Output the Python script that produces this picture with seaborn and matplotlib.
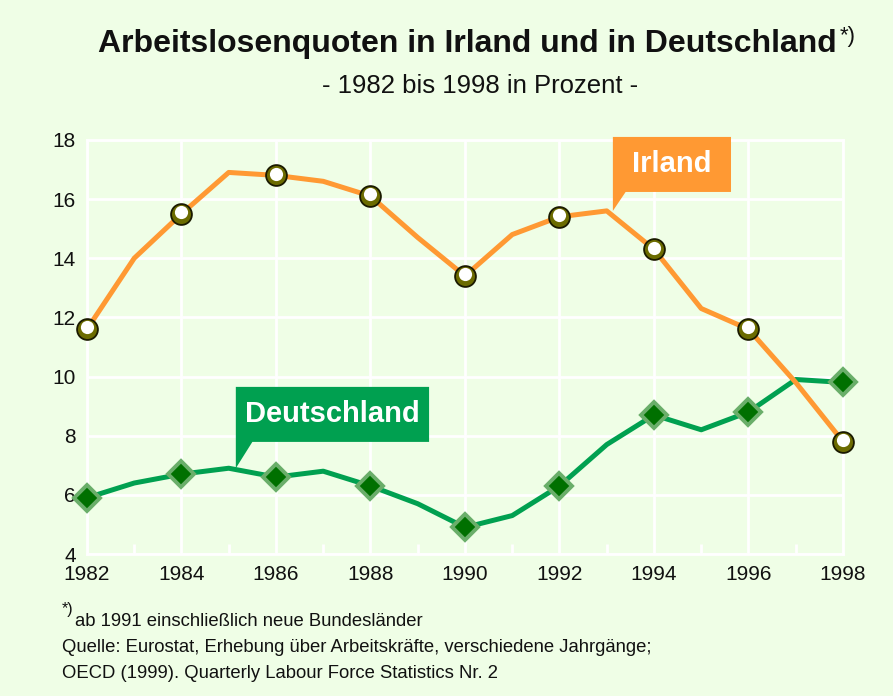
import numpy as np
import pandas as pd
import matplotlib
matplotlib.use("Agg")
import matplotlib.pyplot as plt
import matplotlib.transforms as mtransforms
from matplotlib.patches import Polygon
import seaborn as sns

# ----------------------------
# Data
# ----------------------------
years = list(range(1982, 1999))
irland = [11.6, 14.0, 15.5, 16.9, 16.8, 16.6, 16.1, 14.7, 13.4,
          14.8, 15.4, 15.6, 14.3, 12.3, 11.6, 9.8, 7.8]
deutschland = [5.9, 6.4, 6.7, 6.9, 6.6, 6.8, 6.3, 5.7, 4.9,
               5.3, 6.3, 7.7, 8.7, 8.2, 8.8, 9.9, 9.8]
y_ticks = [4, 6, 8, 10, 12, 14, 16, 18]
x_ticks = list(range(1982, 1999, 2))

df = pd.DataFrame({"Jahr": years, "Irland": irland, "Deutschland": deutschland})
marked = df[df["Jahr"] % 2 == 0]

# ----------------------------
# Style
# ----------------------------
BG = "#EFFEE6"
ORANGE = "#FF9933"
GREEN = "#00A050"

sns.set_theme(style="white")
plt.rcParams["font.family"] = ["Liberation Sans", "DejaVu Sans"]

fig = plt.figure(figsize=(8.93, 6.96), dpi=100, facecolor=BG)
ax = fig.add_axes([0.0974, 0.204, 0.8466, 0.595])
ax.set_facecolor(BG)

# grid
ax.set_xlim(1982, 1998)
ax.set_ylim(4, 18)
ax.set_xticks(x_ticks)
ax.set_yticks(y_ticks)
ax.set_xticks(range(1983, 1998, 2), minor=True)
ax.grid(True, which="major", color="white", linewidth=2.0)
ax.tick_params(axis="both", which="major", length=0, labelsize=15, labelcolor="#111111")
ax.tick_params(axis="x", which="major", pad=8)
ax.tick_params(axis="y", which="major", pad=8)
ax.tick_params(axis="x", which="minor", direction="in", length=7, width=2, color="white", bottom=True)
for s in ax.spines.values():
    s.set_color("white")
    s.set_linewidth(2.0)
    s.set_zorder(1)

# lines
sns.lineplot(data=df, x="Jahr", y="Deutschland", color=GREEN, linewidth=3.6, ax=ax, zorder=3)
sns.lineplot(data=df, x="Jahr", y="Irland", color=ORANGE, linewidth=3.6, ax=ax, zorder=4)

# markers: Deutschland diamonds
ax.plot(marked["Jahr"], marked["Deutschland"], linestyle="none", marker="D",
        markersize=13.5, markerfacecolor="#007000", markeredgecolor="#6AAE6A",
        markeredgewidth=2.8, zorder=5, clip_on=False)

# markers: Irland spheres
ax.plot(marked["Jahr"], marked["Irland"], linestyle="none", marker="o",
        markersize=15, markerfacecolor="#6B6B00", markeredgecolor="#1A1A00",
        markeredgewidth=1.3, zorder=6, clip_on=False)
hl = mtransforms.offset_copy(ax.transData, fig=fig, x=0, y=1.3, units="points")
ax.plot(marked["Jahr"], marked["Irland"], linestyle="none", marker="o",
        markersize=9.5, markerfacecolor="white", markeredgewidth=0,
        transform=hl, zorder=7, clip_on=False)
ax.set_xlabel("")
ax.set_ylabel("")


# ----------------------------
# Callout labels
# ----------------------------
def callout(x0, x1, y0, y1, tip_x, tip_y, knee_x, text, color):
    pts = [(x0, y1), (x1, y1), (x1, y0), (knee_x, y0), (tip_x, tip_y), (x0, y0)]
    ax.add_patch(Polygon(pts, closed=True, facecolor=color, edgecolor="none",
                         zorder=8, clip_on=False))
    ax.text((x0 + x1) / 2, (y0 + y1) / 2, text, color="white", fontsize=21,
            fontweight="bold", ha="center", va="center", zorder=9)


i93 = df.loc[df["Jahr"] == 1993, "Irland"].iloc[0]
d85 = df.loc[df["Jahr"] == 1985, "Deutschland"].iloc[0]
callout(1993.13, 1995.63, 16.24, 18.1, 1993.13, i93, 1993.4, "Irland", ORANGE)
callout(1985.15, 1989.24, 7.79, 9.65, 1985.15, d85, 1985.5, "Deutschland", GREEN)

# ----------------------------
# Titles and footnotes
# ----------------------------
fig.text(0.523, 0.925, "Arbeitslosenquoten in Irland und in Deutschland",
         ha="center", va="baseline", fontsize=23, fontweight="bold", color="#111111")
fig.text(0.940, 0.940, "*)", ha="left", va="baseline", fontsize=16, color="#111111")
fig.text(0.538, 0.866, "- 1982 bis 1998 in Prozent -", ha="center", va="baseline",
         fontsize=18.5, color="#111111")

fig.text(0.069, 0.118, "*)", ha="left", va="baseline", fontsize=11.5, color="#111111")
fig.text(0.084, 0.100, "ab 1991 einschließlich neue Bundesländer", ha="left",
         va="baseline", fontsize=13.3, color="#111111")
fig.text(0.069, 0.063, "Quelle: Eurostat, Erhebung über Arbeitskräfte, verschiedene Jahrgänge;",
         ha="left", va="baseline", fontsize=13.3, color="#111111")
fig.text(0.069, 0.026, "OECD (1999). Quarterly Labour Force Statistics Nr. 2",
         ha="left", va="baseline", fontsize=13.3, color="#111111")

fig.savefig("out.png", dpi=100, facecolor=BG)
